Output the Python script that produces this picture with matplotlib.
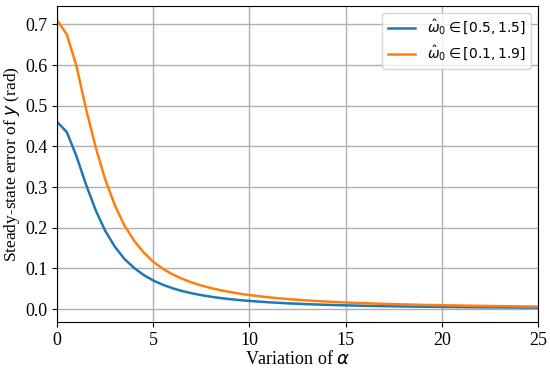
import matplotlib as mpl
import matplotlib.pyplot as plt

mpl.use('Agg')

plt.rcParams['font.family'] = ['Liberation Serif', 'DejaVu Serif']
plt.rcParams['mathtext.fontset'] = 'dejavusans'

alpha = [0, 0.5, 1.0, 1.5, 2.0, 2.5, 3.0, 3.5, 4.0, 4.5, 5.0, 5.5, 6.0, 6.5, 7.0, 7.5,
         8.0, 8.5, 9.0, 9.5, 10, 11, 12, 13, 14, 15, 16, 17, 18, 19, 20, 21, 22, 23, 24, 25]

err_narrow = [0.460, 0.435, 0.376, 0.306, 0.243, 0.192, 0.153, 0.123, 0.101, 0.0835,
              0.0700, 0.0595, 0.0510, 0.0442, 0.0387, 0.0340, 0.0302, 0.0269, 0.0242,
              0.0218, 0.0198, 0.0165, 0.0139, 0.0119, 0.0103, 0.0090, 0.0079, 0.0070,
              0.0063, 0.0057, 0.0051, 0.0046, 0.0042, 0.0039, 0.0036, 0.0033]

err_wide = [0.710, 0.675, 0.598, 0.492, 0.398, 0.318, 0.255, 0.205, 0.168, 0.139,
            0.116, 0.0988, 0.0853, 0.0743, 0.0653, 0.0578, 0.0514, 0.0461, 0.0416,
            0.0376, 0.0343, 0.0287, 0.0244, 0.0210, 0.0183, 0.0160, 0.0142, 0.0126,
            0.0113, 0.0102, 0.0093, 0.0084, 0.0077, 0.0071, 0.0065, 0.0060]

labels = [r'$\hat{\omega}_0 \in [0.5, 1.5]$', r'$\hat{\omega}_0 \in [0.1, 1.9]$']

fig = plt.figure(figsize=(5.5, 3.71), dpi=100)
ax = fig.add_axes([0.104, 0.132, 0.874, 0.852])
ax.plot(alpha, err_narrow, color='#1f77b4', lw=1.8, label=labels[0])
ax.plot(alpha, err_wide, color='#ff7f0e', lw=1.8, label=labels[1])
ax.set_xlim(0, 25)
ax.set_xticks([0, 5, 10, 15, 20, 25])
ax.grid(True, color='#b0b0b0', lw=1)
ax.tick_params(labelsize=13)
ax.set_xlabel(r'Variation of $\alpha$', fontsize=13, labelpad=1)
ax.set_ylabel(r'Steady-state error of $y$ (rad)', fontsize=12.5, labelpad=2)
ax.legend(loc='upper right', fontsize=10)

plt.savefig('out.png', dpi=100)
